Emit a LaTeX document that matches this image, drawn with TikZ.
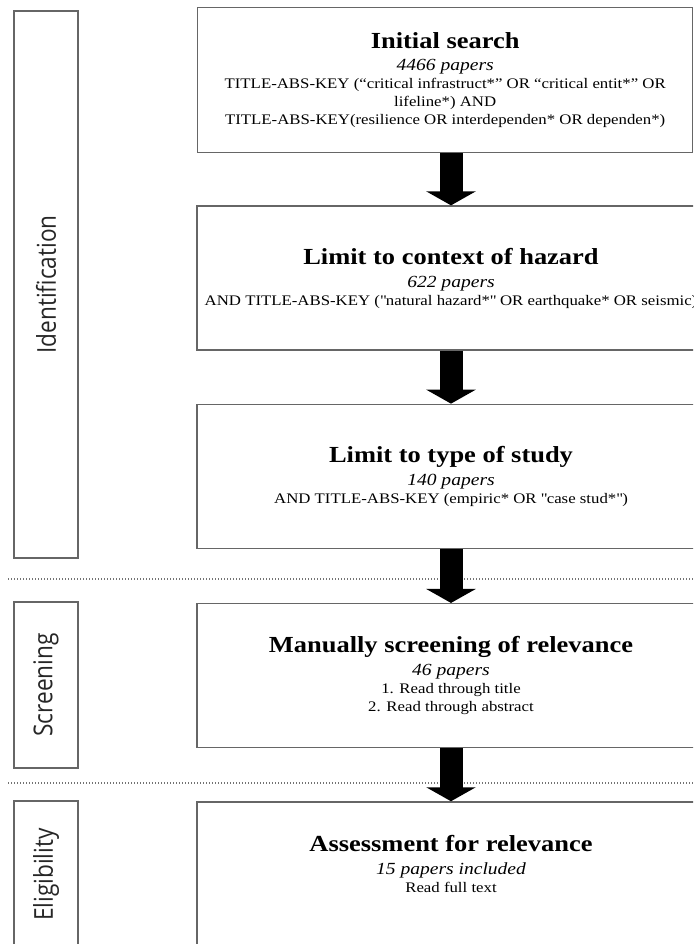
\documentclass[tikz,border=0pt]{standalone}
\usepackage{fontspec}
\setmainfont{Liberation Serif}[FakeStretch=1.15]
\newfontfamily\phasefont{Open Sans}[FakeStretch=0.87]
\usetikzlibrary{positioning, arrows.meta}

\newcommand{\stagetitle}[1]{{\fontsize{23}{24}\selectfont\bfseries #1}}
\newcommand{\papercount}[1]{{\fontsize{17}{19}\selectfont\itshape #1}}

\tikzset{
  stagebox/.style={draw=black!60, line width=1.3pt, rotate=90, minimum height=64pt,
    inner sep=0pt, text=black!85, font=\phasefont\fontsize{26}{28}\selectfont},
  searchbox/.style={draw=black!60, line width=1.3pt, fill=white, minimum width=508pt,
    minimum height=144pt, align=center, inner sep=0pt, font=\fontsize{14.6}{18}\selectfont},
  bigarrow/.style={line width=23pt, -{Triangle[length=14pt,width=49pt]}},
  phaseline/.style={draw=black!55, line width=1.2pt, dash pattern=on 1.4pt off 1.6pt}
}

\begin{document}
\begin{tikzpicture}[x=1pt, y=-1pt]
  \useasboundingbox (0,0) rectangle (693,944);
  \clip (0,0) rectangle (693,944);

  \node[stagebox, minimum width=547pt] (ident) at (46,284.5) {Identification};
  \node[stagebox, minimum width=166pt] (screen) at (46,685) {Screening};
  \node[stagebox, minimum width=147pt] (elig) at (46,874.5) {Eligibility};

  \draw[phaseline] (8,579) -- (693,579);
  \draw[phaseline] (8,783) -- (693,783);

  \node[searchbox, anchor=north west, minimum width=495pt, minimum height=145pt] (initial) at (197,7)
    {\stagetitle{Initial search}\\[4pt]
     \papercount{4466 papers}\\
     TITLE-ABS-KEY (“critical infrastruct*” OR “critical entit*” OR\\
     lifeline*) AND\\
     TITLE-ABS-KEY(resilience OR interdependen* OR dependen*)};
  \node[searchbox] (hazard) at (451,278)
    {\stagetitle{Limit to context of hazard}\\[5pt]
     \papercount{622 papers}\\
     AND TITLE-ABS-KEY (\textquotedbl natural hazard*\textquotedbl{} OR earthquake* OR seismic)};
  \node[searchbox, below=53pt of hazard] (study)
    {\stagetitle{Limit to type of study}\\[5pt]
     \papercount{140 papers}\\
     AND TITLE-ABS-KEY (empiric* OR \textquotedbl case stud*\textquotedbl)};
  \node[searchbox, below=54pt of study] (manual)
    {\stagetitle{Manually screening of relevance}\\[5pt]
     \papercount{46 papers}\\
     1. Read through title\\
     2. Read through abstract};
  \node[searchbox, below=53pt of manual] (assess)
    {\stagetitle{Assessment for relevance}\\[5pt]
     \papercount{15 papers included}\\
     Read full text\\[2pt]
     \mbox{}};

  \draw[bigarrow] (hazard.north |- initial.south) -- (hazard.north);
  \draw[bigarrow] (hazard) -- (study);
  \draw[bigarrow] (study) -- (manual);
  \draw[bigarrow] (manual) -- (assess);
\end{tikzpicture}
\end{document}
